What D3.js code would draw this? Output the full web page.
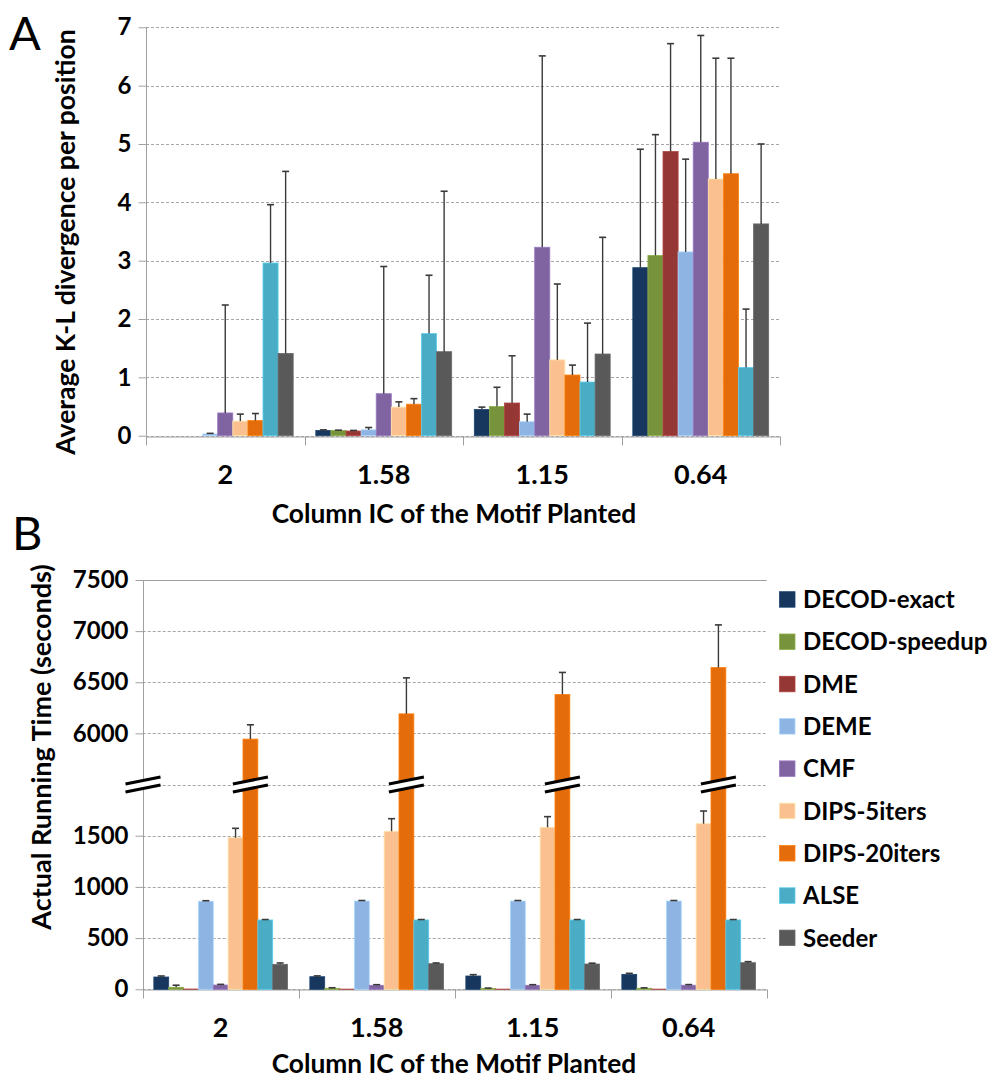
<!DOCTYPE html>
<html><head><meta charset="utf-8">
<script src="https://cdn.jsdelivr.net/npm/d3@7"></script>
<style>body{margin:0;background:#fff}svg{display:block}text{font-family:Lato,"Open Sans",sans-serif}</style>
</head><body>
<svg id="c" width="995" height="1079"></svg>
<script>
const categories = ["2", "1.58", "1.15", "0.64"];
const series = ["DECOD-exact","DECOD-speedup","DME","DEME","CMF","DIPS-5iters","DIPS-20iters","ALSE","Seeder"];
const colors = ["#17375E","#77933C","#953735","#8EB4E3","#8064A2","#FAC090","#E46C0A","#4BACC6","#595959"];

// Panel A: average K-L divergence (mean, upper error)
const klMean = {
  "DECOD-exact":   [0, 0.09, 0.45, 2.88],
  "DECOD-speedup": [0, 0.09, 0.50, 3.09],
  "DME":           [0, 0.08, 0.56, 4.87],
  "DEME":          [0.03, 0.10, 0.24, 3.15],
  "CMF":           [0.39, 0.72, 3.23, 5.03],
  "DIPS-5iters":   [0.25, 0.49, 1.30, 4.40],
  "DIPS-20iters":  [0.26, 0.54, 1.04, 4.49],
  "ALSE":          [2.96, 1.75, 0.92, 1.17],
  "Seeder":        [1.41, 1.44, 1.40, 3.63]
};
const klErr = {
  "DECOD-exact":   [0, 0.01, 0.04, 2.03],
  "DECOD-speedup": [0, 0.005, 0.33, 2.07],
  "DME":           [0, 0.01, 0.81, 1.85],
  "DEME":          [0.01, 0.04, 0.13, 1.59],
  "CMF":           [1.85, 2.18, 3.28, 1.83],
  "DIPS-5iters":   [0.12, 0.09, 1.30, 2.07],
  "DIPS-20iters":  [0.12, 0.095, 0.17, 1.98],
  "ALSE":          [1.00, 1.00, 1.01, 1.00],
  "Seeder":        [3.12, 2.75, 2.00, 1.37]
};
const klTicks = [0,1,2,3,4,5,6,7];

// Panel B: actual running time in seconds (mean, upper error)
const timeMean = {
  "DECOD-exact":   [120, 123, 130, 146],
  "DECOD-speedup": [20, 10, 8, 10],
  "DME":           [3, 2, 2, 2],
  "DEME":          [860, 862, 862, 862],
  "CMF":           [42, 39, 39, 40],
  "DIPS-5iters":   [1480, 1543, 1582, 1617],
  "DIPS-20iters":  [5944, 6191, 6381, 6644],
  "ALSE":          [677, 677, 677, 677],
  "Seeder":        [244, 250, 247, 260]
};
const timeErr = {
  "DECOD-exact":   [10, 8, 13, 10],
  "DECOD-speedup": [20, 5, 4, 4],
  "DME":           [0, 0, 0, 0],
  "DEME":          [5, 5, 5, 5],
  "CMF":           [6, 6, 6, 6],
  "DIPS-5iters":   [92, 123, 104, 124],
  "DIPS-20iters":  [140, 352, 215, 417],
  "ALSE":          [4, 4, 4, 4],
  "Seeder":        [13, 7, 8, 10]
};
const timeTicks = [0, 500, 1000, 1500, 6000, 6500, 7000, 7500];
const breakLow = 2000, breakHigh = 5500;
const brokenSeries = "DIPS-20iters";

const svg = d3.select("#c");
const axisColor = "#a0a0a0", gridColor = "#a6a6a6";

function drawPanel(o) {
  const g = svg.append("g");
  const x0 = d3.scaleBand().domain(categories).range([o.left, o.right]).paddingInner(0).paddingOuter(0);
  const x1 = d3.scaleBand().domain(series).range([0, x0.bandwidth()]).paddingInner(0).paddingOuter(0.75);
  const y = o.y;
  // gridlines
  g.selectAll("line.grid").data(o.grid).join("line")
    .attr("x1", o.left).attr("x2", o.right)
    .attr("y1", d => Math.round(y(d)) + 0.5).attr("y2", d => Math.round(y(d)) + 0.5)
    .attr("stroke", (d, i) => (o.solidTop && i === o.grid.length - 1) ? axisColor : gridColor)
    .attr("stroke-dasharray", (d, i) => (o.solidTop && i === o.grid.length - 1) ? null : "3,2")
    .attr("stroke-width", 1);
  // y axis
  const yAxis = d3.axisLeft(y).tickValues(o.ticks).tickSize(8).tickFormat(d => String(d)).tickPadding(7);
  const ya = g.append("g").attr("transform", `translate(${Math.round(o.left) + 0.5},0)`).call(yAxis);
  ya.select(".domain").attr("stroke", axisColor).attr("d", `M0,${y(o.grid[o.grid.length-1])}V${y(o.grid[0])}`);
  ya.selectAll(".tick line").attr("stroke", axisColor);
  ya.selectAll(".tick text").attr("font-size", 24).attr("font-weight", 700).attr("fill", "#000").attr("font-family", "Lato");
  if (o.extraTick !== undefined) {
    ya.append("line").attr("x1", -8).attr("x2", 0).attr("y1", y(o.extraTick)).attr("y2", y(o.extraTick)).attr("stroke", axisColor);
  }
  // x axis
  const xAxis = d3.axisBottom(x0).tickSize(0).tickPadding(28);
  const xa = g.append("g").attr("transform", `translate(0,${Math.round(y(0)) + 0.5})`).call(xAxis);
  xa.select(".domain").attr("stroke", axisColor);
  xa.selectAll(".tick text").attr("font-size", 27).attr("font-weight", 700).attr("fill", "#000").attr("font-family", "Lato");
  const bounds = categories.map(c => x0(c)).concat([o.right]);
  xa.selectAll("line.sep").data(bounds).join("line").attr("class", "sep")
    .attr("x1", d => Math.round(d) + 0.5).attr("x2", d => Math.round(d) + 0.5).attr("y1", 0).attr("y2", 9)
    .attr("stroke", axisColor);
  // bars
  series.forEach((s, si) => {
    const col = colors[si];
    const sg = g.append("g");
    categories.forEach((c, ci) => {
      const v = o.mean[s][ci], e = o.err[s][ci];
      const bx = x0(c) + x1(s), bw = x1.bandwidth();
      if (v > 0) {
        sg.append("rect").attr("x", bx).attr("width", bw)
          .attr("y", y(v)).attr("height", y(0) - y(v))
          .attr("fill", col).attr("stroke", d3.color(col).brighter(0.5)).attr("stroke-width", 0.8);
      }
      if (e > 0) {
        const cx = bx + bw / 2;
        sg.append("line").attr("x1", cx).attr("x2", cx).attr("y1", y(v)).attr("y2", y(v + e))
          .attr("stroke", "#3a3a3a").attr("stroke-width", 1.4);
        sg.append("line").attr("x1", cx - 3.5).attr("x2", cx + 3.5).attr("y1", y(v + e)).attr("y2", y(v + e))
          .attr("stroke", "#3a3a3a").attr("stroke-width", 1.6);
      }
    });
  });
  return {x0, x1};
}

// ---------- Panel A ----------
const yA = d3.scaleLinear().domain([0, 7]).range([435.7, 27.3]);
drawPanel({left: 146, right: 780, y: yA, ticks: klTicks, grid: klTicks, mean: klMean, err: klErr});

// ---------- Panel B ----------
const yB = d3.scaleLinear().domain([0, breakLow, breakHigh, 7500]).range([989.3, 784.5, 784.5, 580]);
const gridB = [0, 500, 1000, 1500, breakLow, 6000, 6500, 7000, 7500];
const pb = drawPanel({left: 142.7, right: 766.7, y: yB, ticks: timeTicks, grid: gridB, mean: timeMean, err: timeErr, solidTop: true, extraTick: breakLow});

// break markers
function breakMark(cx, cy) {
  const w = 35, rise = 7, gap = 8;
  const g = svg.append("g");
  const p = [[cx - w/2, cy - gap/2 + rise/2], [cx + w/2, cy - gap/2 - rise/2], [cx + w/2, cy + gap/2 - rise/2], [cx - w/2, cy + gap/2 + rise/2]];
  g.append("path").attr("d", d3.line()(p) + "Z").attr("fill", "#fff");
  g.append("line").attr("x1", p[0][0]).attr("y1", p[0][1]).attr("x2", p[1][0]).attr("y2", p[1][1]).attr("stroke", "#000").attr("stroke-width", 3);
  g.append("line").attr("x1", p[3][0]).attr("y1", p[3][1]).attr("x2", p[2][0]).attr("y2", p[2][1]).attr("stroke", "#000").attr("stroke-width", 3);
}
const yBreak = yB(breakLow);
breakMark(143, yBreak);
categories.forEach(c => breakMark(pb.x0(c) + pb.x1(brokenSeries) + pb.x1.bandwidth() / 2, yBreak));

// legend
const lg = svg.append("g");
series.forEach((s, i) => {
  const yy = 599.5 + i * 42.3;
  lg.append("rect").attr("x", 779.5).attr("y", yy - 7.8).attr("width", 15.5).attr("height", 15.5)
    .attr("fill", colors[i]).attr("stroke", d3.color(colors[i]).brighter(0.5)).attr("stroke-width", 0.8);
  lg.append("text").attr("x", 803).attr("y", yy).attr("dy", "0.36em")
    .attr("font-size", 24).attr("font-weight", 700).text(s);
});

// titles
svg.append("text").attr("x", 9).attr("y", 50).attr("font-size", 47).text("A");
svg.append("text").attr("x", 12).attr("y", 550).attr("font-size", 47).text("B");
svg.append("text").attr("transform", "translate(75,242) rotate(-90)").attr("text-anchor", "middle")
  .attr("font-size", 26.5).attr("font-weight", 700).text("Average K-L divergence per position");
svg.append("text").attr("transform", "translate(51,747) rotate(-90)").attr("text-anchor", "middle")
  .attr("font-size", 27).attr("font-weight", 700).text("Actual Running Time (seconds)");
svg.append("text").attr("x", 454).attr("y", 523).attr("text-anchor", "middle")
  .attr("font-size", 26.3).attr("font-weight", 700).text("Column IC of the Motif Planted");
svg.append("text").attr("x", 454).attr("y", 1073).attr("text-anchor", "middle")
  .attr("font-size", 26.3).attr("font-weight", 700).text("Column IC of the Motif Planted");
</script>
</body></html>
